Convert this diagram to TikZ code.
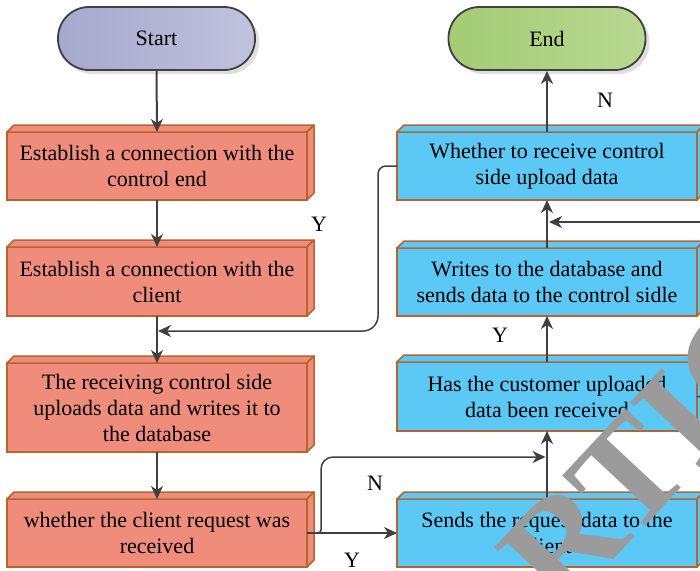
\documentclass[tikz,border=0pt]{standalone}
\usepackage{fontspec}
\setmainfont{Liberation Serif}
\usetikzlibrary{arrows.meta,calc,shadows}
\definecolor{redfill}{RGB}{240,140,124}
\definecolor{bluefill}{RGB}{91,200,245}
\definecolor{edgebrown}{RGB}{184,100,44}
\definecolor{conncol}{RGB}{64,64,64}
\definecolor{startL}{RGB}{166,168,205}
\definecolor{startR}{RGB}{192,194,221}
\definecolor{endL}{RGB}{163,204,116}
\definecolor{endR}{RGB}{184,216,146}
\definecolor{wmark}{RGB}{155,155,155}
\begin{document}
\begin{tikzpicture}[x=1pt,y=1pt,
  box/.style={draw=edgebrown, line width=1.5pt, minimum width=300pt, inner sep=0pt, outer sep=0pt, align=center, font=\rmfamily\fontsize{22}{26}\selectfont},
  redbox/.style={box, fill=redfill},
  bluebox/.style={box, fill=bluefill},
  face/.style={draw=edgebrown, line width=1.5pt, line join=round},
  term/.style={draw=conncol, line width=1.8pt, rounded corners=31pt, minimum width=197pt, minimum height=63pt, inner sep=0pt, font=\rmfamily\fontsize{22}{26}\selectfont, drop shadow={shadow xshift=4pt, shadow yshift=-4pt, opacity=0.25}},
  conn/.style={draw=conncol, line width=2pt, -{Stealth[length=13pt,width=12pt,inset=4pt]}},
  thinconn/.style={conn, line width=1.5pt},
  lbl/.style={font=\rmfamily\fontsize{22}{26}\selectfont, inner sep=0pt}]
\useasboundingbox (0,0) rectangle (700,-570);
% terminals
\node[term, left color=startL, right color=startR] (st) at (156.5,-38.5) {Start};
\node[term, left color=endL, right color=endR] (en) at (547,-38.5) {End};
% red boxes
\node[redbox, minimum height=68pt] (r1) at (157,-166) {Establish a connection with the\\control end};
\node[redbox, minimum height=69pt] (r2) at (157,-281.5) {Establish a connection with the\\client};
\node[redbox, minimum height=89pt] (r3) at (157,-407.5) {The receiving control side\\uploads data and writes it to\\the database};
\node[redbox, minimum height=68pt] (r4) at (157,-533) {whether the client request was\\received};
% blue boxes
\node[bluebox, minimum height=68pt] (b1) at (547,-166) {Whether to receive control\\side upload data};
\node[bluebox, minimum height=68pt] (b2) at (547,-282) {Writes to the database and\\sends data to the control sidle};
\node[bluebox, minimum height=69pt] (b3) at (547,-396.5) {Has the customer uploaded\\data been received};
\node[bluebox, minimum height=68pt] (b4) at (547,-533) {Sends the request data to the\\client};
% 3D faces
\foreach \n in {r1,r2,r3,r4} {
  \filldraw[face, fill=redfill] (\n.north west) -- ++(7,7) -- ($(\n.north east)+(7,7)$) -- (\n.north east) -- cycle;
  \filldraw[face, fill=redfill] (\n.north east) -- ++(7,7) -- ($(\n.south east)+(7,7)$) -- (\n.south east) -- cycle;
}
\foreach \n in {b1,b2,b3,b4} {
  \filldraw[face, fill=bluefill] (\n.north west) -- ++(7,7) -- ($(\n.north east)+(7,7)$) -- (\n.north east) -- cycle;
  \filldraw[face, fill=bluefill] (\n.north east) -- ++(7,7) -- ($(\n.south east)+(7,7)$) -- (\n.south east) -- cycle;
}
% connectors
\draw[conn] (st.south) -- (r1.north);
\draw[conn] (r1.south) -- (r2.north);
\draw[conn] (r2.south) -- (r3.north);
\draw[conn] (r3.south) -- (r4.north);
\coordinate (j1) at (158,-331);
\draw[thinconn] (b1.west) [rounded corners=8pt] -| (378,-250) [rounded corners=15pt] |- (j1);
\draw[conn] (r4.east) -- (b4.west);
\coordinate (c2) at (545.5,-457);
\draw[thinconn] (r4.east) [rounded corners=3pt] -| (321,-495) [rounded corners=12pt] |- (c2);
\draw[conn] (b4.north) -- (b3.south);
\draw[conn] (b3.north) -- (b2.south);
\draw[conn] (b2.north) -- (b1.south);
\draw[conn] (b1.north) -- (en.south);
\coordinate (c3s) at (712,-222);
\coordinate (c3) at (549,-222);
\draw[conn] (c3s) -- (c3);
\coordinate (c4) at (712,-397);
\draw[thinconn,-] (b3.east) -- (c4);
% labels
\node[lbl] (y1) at (319,-224.5) {Y};
\node[lbl] (n1) at (605,-100.5) {N};
\node[lbl] (y2) at (500,-335.5) {Y};
\node[lbl] (n2) at (375,-483) {N};
\node[lbl] (y3) at (352,-560.5) {Y};
% watermark
\node[text=wmark, rotate=47, font=\rmfamily\bfseries\fontsize{145}{145}\selectfont, inner sep=0pt] (wm) at (650,-452) {RTIC};
\end{tikzpicture}
\end{document}
